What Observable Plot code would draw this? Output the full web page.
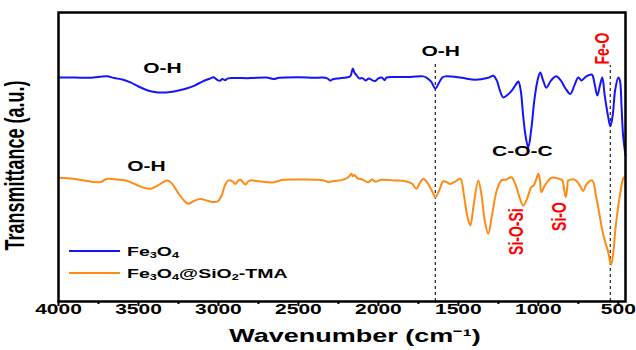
<!DOCTYPE html>
<html><head><meta charset="utf-8">
<script src="https://cdn.jsdelivr.net/npm/d3@7"></script>
<script src="https://cdn.jsdelivr.net/npm/@observablehq/plot@0.6"></script>
<style>body{margin:0;background:#fff}#chart{width:636px;height:350px}</style>
</head><body><div id="chart"></div>
<script>
// Fe3O4 spectrum (wavenumber, transmittance a.u.)
const blueWn = [4000,3900,3800,3700,3650,3600,3550,3500,3450,3400,3350,3300,3250,3200,3150,3100,3050,3030,3010,2990,2975,2960,2940,2900,2800,2700,2656,2620,2500,2400,2350,2320,2300,2290,2250,2200,2175,2160,2150,2140,2120,2100,2080,2060,2040,2020,2000,1980,1960,1950,1900,1800,1720,1700,1670,1644,1620,1600,1580,1480,1394,1313,1281,1260,1240,1219,1190,1160,1140,1125,1110,1095,1080,1063,1045,1025,1005,988,970,950,920,888,860,830,800,775,750,730,700,665,650,631,615,600,585,565,550,535,520,500,490,480,470,455];
const blueT  = [77.5,77.5,77.4,77.9,77.3,76.8,75.8,74.4,73.2,72.5,72.3,72.5,73.0,73.7,74.7,76.1,77.2,77.6,76.8,76.4,77.0,76.6,77.2,77.3,77.3,77.5,77.0,77.4,77.6,77.4,77.5,77.2,76.4,76.8,77.2,77.5,78.0,80.6,79.2,78.5,77.2,77.3,76.5,77.2,76.6,76.3,77.2,77.5,76.6,77.5,77.7,77.7,77.9,77.5,76.1,73.7,75.8,77.5,77.9,77.4,76.7,77.4,78.1,76.5,73.0,70.6,71.6,73.4,75.1,76.1,73.0,64.4,57.4,53.3,59.2,69.6,76.5,79.2,76.5,74.0,76.5,77.9,76.5,73.7,71.8,74.7,77.5,76.5,77.9,78.5,75.8,71.3,74.7,77.5,71.3,64.4,60.6,64.4,73.0,77.5,76.5,67.8,57.4,50.5];
// Fe3O4@SiO2-TMA spectrum
const orangeWn = [4000,3900,3800,3738,3700,3631,3580,3530,3480,3425,3380,3340,3319,3290,3250,3210,3188,3150,3113,3070,3030,3006,2980,2960,2938,2910,2894,2875,2863,2845,2831,2815,2800,2740,2694,2660,2594,2500,2375,2330,2313,2280,2230,2190,2169,2160,2150,2130,2100,2063,2040,2020,1981,1900,1831,1790,1763,1740,1719,1690,1660,1644,1620,1594,1570,1550,1520,1488,1465,1445,1425,1405,1375,1355,1335,1313,1290,1260,1231,1200,1169,1140,1115,1094,1070,1044,1030,1015,1000,990,981,960,919,880,850,840,828,818,813,770,740,719,700,663,640,620,600,580,565,550,544,530,519,500,488,469,455];
const orangeT  = [42.8,42.4,41.5,41.3,42.4,42.2,41.9,40.8,39.6,39.0,40.1,41.5,41.9,40.8,37.4,34.6,33.8,34.9,35.5,34.9,34.4,34.6,36.7,40.1,41.9,41.5,40.7,41.9,42.1,41.2,40.5,41.5,41.9,41.5,41.3,41.2,42.1,42.2,42.1,41.7,41.3,41.7,42.0,42.9,44.2,43.3,43.8,42.6,42.2,41.3,42.2,41.5,42.1,41.9,41.6,40.8,39.0,41.2,42.5,40.8,37.7,36.1,38.4,41.6,41.2,40.7,41.5,42.5,36.7,29.8,26.3,33.2,41.9,36.7,28.0,23.4,29.8,38.4,41.9,42.2,43.0,40.1,35.6,33.2,35.6,39.6,40.1,41.9,44.2,41.9,37.8,40.1,42.8,42.6,41.9,39.1,36.1,40.1,41.9,42.1,40.1,38.2,40.5,41.9,36.7,30.8,24.6,20.1,17.6,13.5,12.8,17.6,24.6,33.2,37.4,42.6,43.3];

// legend names, as [text, isSubscript] pieces
const seriesNames = [
  [["Fe",0],["3",1],["O",0],["4",1]],
  [["Fe",0],["3",1],["O",0],["4",1],["@SiO",0],["2",1],["-TMA",0]]
];
const seriesColors = ["#1414ff", "#ff8a14"];

// tick labels
const xTicks = [4000,3500,3000,2500,2000,1500,1000,500];
const xMinor = [3750,3250,2750,2250,1750,1250,750];

// band annotations
const annText = ["O-H","O-H","O-H","C-O-C"];
const annWn   = [3350,3450,1610,1100];
const annT    = [79.2,45.0,85.1,50.5];
const redText = ["Fe-O","Si-O-Si","Si-O"];
const redWn   = [561,1093,830];
const redT    = [87.5,24.2,29.4];
const dashWn  = [1644,550];
const dashTop = [82.4,81.7];

const blue = blueWn.map((w,i)=>({wn:w, t:blueT[i]}));
const orange = orangeWn.map((w,i)=>({wn:w, t:orangeT[i]}));
const FONT = "'Liberation Sans', Arial, sans-serif";

const legendMark = (index, scales, values, dims) => {
  const g = d3.create("svg:g").attr("font-family", FONT).attr("font-weight","bold")
    .attr("font-size", 13).attr("text-anchor", "start");
  const x0 = dims.marginLeft + 11, x1 = x0 + 51;
  seriesNames.forEach((parts, i) => {
    const y = dims.height - dims.marginBottom - 50 + i*22;
    g.append("line").attr("x1", x0).attr("x2", x1).attr("y1", y).attr("y2", y)
      .attr("stroke", seriesColors[i]).attr("stroke-width", 2);
    const t = g.append("text").attr("x", x1 + 7).attr("y", y).attr("dy", "0.35em").attr("fill","#000");
    parts.forEach(([s, sub]) => {
      const sp = t.append("tspan").text(s);
      if (sub) sp.attr("font-size", 8.5).attr("baseline-shift", "-25%");
    });
  });
  return g.node();
};

const chart = Plot.plot({
  width: 636, height: 350,
  marginLeft: 58, marginRight: 11, marginTop: 12, marginBottom: 49,
  style: {fontFamily: FONT, background: "#fff"},
  x: {domain: [4000, 455]},
  y: {domain: [0, 100], axis: null},
  marks: [
    Plot.ruleX(dashWn, {x: d=>d, y1: 0, y2: (d,i)=>dashTop[i], stroke: "#222", strokeWidth: 1.2, strokeDasharray: "3,3"}),
    Plot.line(orange, {x: "wn", y: "t", stroke: seriesColors[1], strokeWidth: 2, curve: "catmull-rom"}),
    Plot.line(blue, {x: "wn", y: "t", stroke: seriesColors[0], strokeWidth: 2, curve: "catmull-rom"}),
    Plot.text(annText.map((d,i)=>i), {x: i=>annWn[i], y: i=>annT[i], text: i=>annText[i], fontSize: 14, fontWeight: "bold", fill: "#000"}),
    Plot.text(redText.map((d,i)=>i), {x: i=>redWn[i], y: i=>redT[i], text: i=>redText[i], rotate: -90, fontSize: 14, fontWeight: "bold", fill: "#ff0000"}),
    Plot.axisX({ticks: xMinor, tickSize: 3, tickFormat: () => "", strokeWidth: 2, label: null}),
    Plot.axisX({ticks: xTicks, tickSize: 5, tickPadding: 7, tickFormat: d => String(d), fontSize: 14, fontWeight: "bold", strokeWidth: 2, label: null, fill: "#000"}),
    Plot.frame({stroke: "#000", strokeWidth: 2.5}),
    Plot.text(["Wavenumber (cm⁻¹)"], {frameAnchor: "bottom", textAnchor: "middle", lineAnchor: "middle", dx: 13, dy: 40, fontSize: 18, fontWeight: "bold", fill: "#000"}),
    Plot.text(["Transmittance (a.u.)"], {frameAnchor: "left", textAnchor: "middle", lineAnchor: "middle", rotate: -90, dx: -35, dy: 8.5, fontSize: 18, fontWeight: "bold", fill: "#000"}),
    legendMark
  ]
});

// the reference's lettering is stretched horizontally (wide glyphs)
chart.querySelectorAll("text").forEach(t => {
  const x = +t.getAttribute("x") || 0, y = +t.getAttribute("y") || 0;
  t.removeAttribute("x"); t.removeAttribute("y");
  const tr = t.getAttribute("transform") || "";
  const rotated = /rotate\((-90|270)\)/.test(tr);
  t.setAttribute("transform", `${tr} translate(${x},${y}) ${rotated ? "scale(1,1.5)" : "scale(1.5,1)"}`);
});

document.getElementById("chart").appendChild(chart);
</script></body></html>
